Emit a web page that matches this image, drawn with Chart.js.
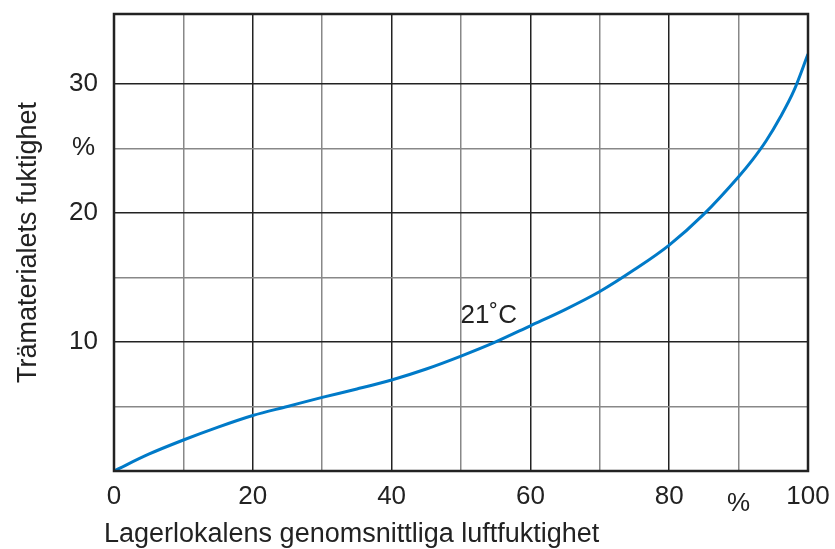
<!DOCTYPE html>
<html>
<head>
<meta charset="utf-8">
<script src="https://cdn.jsdelivr.net/npm/chart.js@4"></script>
<style>
  html, body { margin: 0; padding: 0; background: #fff; }
  #wrap { width: 835px; height: 549px; }
</style>
</head>
<body>
<div id="wrap"><canvas id="moistChart"></canvas></div>
<script>
// luftfuktighet (%) -> trämaterialets fuktighet (%), 21 °C
var rhValues = [0, 5, 10, 15, 20, 25, 30, 35, 40, 45, 50, 55, 60, 65, 70, 75, 80, 85, 90, 92, 94, 96, 98, 100];
var woodValues = [0, 1.3, 2.4, 3.4, 4.3, 5.0, 5.7, 6.35, 7.05, 7.9, 8.9, 10.0, 11.25, 12.5, 13.9, 15.6, 17.5, 19.9, 22.8, 24.1, 25.6, 27.4, 29.5, 32.3];
var yTickLabels = { 10: '10', 20: '20', 25: '%', 30: '30' };
var xTickLabels = { 0: '0', 20: '20', 40: '40', 60: '60', 80: '80', 100: '100' };

var FONT = '"Liberation Sans", Arial, sans-serif';
var TEXT = '#222';

document.addEventListener('DOMContentLoaded', function() {
    var points = rhValues.map(function(x, i) { return { x: x, y: woodValues[i] }; });

    var frame = {
        id: 'frame',
        afterDraw: function(chart) {
            var c = chart.ctx, a = chart.chartArea;
            c.save();
            c.strokeStyle = '#222';
            c.lineWidth = 2.5;
            c.strokeRect(a.left, a.top, a.right - a.left, a.bottom - a.top);
            c.fillStyle = TEXT;
            c.font = '26px ' + FONT;
            c.textAlign = 'center';
            c.textBaseline = 'middle';
            c.fillText('%', chart.scales.x.getPixelForValue(90), 504);
            c.fillText('21\u02DAC', chart.scales.x.getPixelForValue(54), chart.scales.y.getPixelForValue(12.05));
            c.textAlign = 'left';
            c.font = '27px ' + FONT;
            c.fillText('Lagerlokalens genomsnittliga luftfuktighet', 104, 535);
            c.restore();
        }
    };

    new Chart(document.getElementById('moistChart'), {
        type: 'scatter',
        data: {
            datasets: [{
                data: points,
                showLine: true,
                borderColor: 'rgb(0, 122, 200)',
                borderWidth: 3,
                pointRadius: 0,
                cubicInterpolationMode: 'monotone'
            }]
        },
        options: {
            responsive: true,
            maintainAspectRatio: false,
            animation: false,
            events: [],
            layout: { padding: { left: 0, right: 27, top: 14, bottom: 0 } },
            plugins: { legend: { display: false }, tooltip: { enabled: false } },
            scales: {
                x: {
                    type: 'linear',
                    min: 0,
                    max: 100,
                    afterFit: function(s) { s.height = 78; s.paddingLeft = 0; s.paddingRight = 0; },
                    ticks: {
                        stepSize: 10,
                        padding: 10,
                        maxRotation: 0,
                        autoSkip: false,
                        color: TEXT,
                        font: { family: FONT, size: 26 },
                        callback: function(v) { return xTickLabels[v] || ''; }
                    },
                    grid: {
                        drawTicks: false,
                        lineWidth: 1.5,
                        color: function(ctx) { return ctx.tick && ctx.tick.value % 20 === 0 ? '#222' : '#888'; }
                    },
                    border: { display: false }
                },
                y: {
                    min: 0,
                    max: 35.4,
                    afterFit: function(s) { s.width = 114; s.paddingTop = 0; s.paddingBottom = 0; },
                    ticks: {
                        stepSize: 5,
                        padding: 16,
                        crossAlign: 'center',
                        autoSkip: false,
                        color: TEXT,
                        font: { family: FONT, size: 26 },
                        callback: function(v) { return yTickLabels[v] || ''; }
                    },
                    grid: {
                        drawTicks: false,
                        lineWidth: 1.5,
                        color: function(ctx) { return ctx.tick && ctx.tick.value % 10 === 0 ? '#222' : '#888'; }
                    },
                    border: { display: false },
                    title: {
                        display: true,
                        text: 'Trämaterialets fuktighet',
                        color: TEXT,
                        font: { family: FONT, size: 27 },
                        padding: { top: 12, bottom: 0 }
                    }
                }
            }
        },
        plugins: [frame]
    });
});
</script>
</body>
</html>
